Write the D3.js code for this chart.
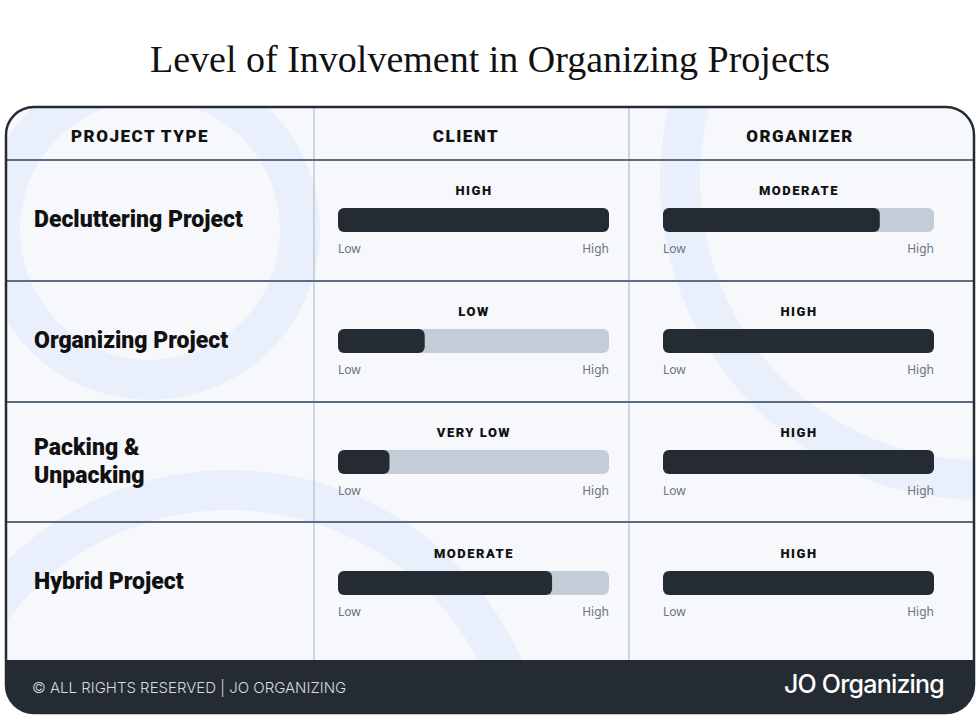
<!DOCTYPE html>
<html><head><meta charset="utf-8">
<script src="https://cdn.jsdelivr.net/npm/d3@7"></script>
<style>body{margin:0;background:#fff}</style></head>
<body><div id="chart"></div>
<script>
const projects = ['Decluttering Project', 'Organizing Project', 'Packing &\nUnpacking', 'Hybrid Project'];
const clientLevel = [1.0, 0.32, 0.19, 0.79];
const clientLabel = ['HIGH', 'LOW', 'VERY LOW', 'MODERATE'];
const organizerLevel = [0.80, 1.0, 1.0, 1.0];
const organizerLabel = ['MODERATE', 'HIGH', 'HIGH', 'HIGH'];
const columns = ['PROJECT TYPE', 'CLIENT', 'ORGANIZER'];

const W = 980, H = 722;
const svg = d3.select('#chart').append('svg').attr('width', W).attr('height', H);
const dark = '#252b33', line = '#5b6c84';
const card = { x: 6, y: 107, w: 968, h: 606, r: 28 };
const rowEdges = [160, 281, 402, 522, 660];
const colEdges = [6, 314, 629, 974];

svg.append('text').attr('x', W / 2).attr('y', 72).attr('text-anchor', 'middle')
  .attr('font-family', 'Liberation Serif, serif').attr('font-size', 38).attr('fill', '#111')
  .text('Level of Involvement in Organizing Projects');

const clip = svg.append('clipPath').attr('id', 'card').append('rect')
  .attr('x', card.x).attr('y', card.y).attr('width', card.w).attr('height', card.h).attr('rx', card.r);
const g = svg.append('g').attr('clip-path', 'url(#card)');
g.append('rect').attr('x', card.x).attr('y', card.y).attr('width', card.w).attr('height', card.h).attr('fill', '#f6f8fc');
// decorative arcs
[[150, 230, 150], [230, 790, 300], [980, 180, 300]].forEach(([cx, cy, r]) =>
  g.append('circle').attr('cx', cx).attr('cy', cy).attr('r', r).attr('fill', 'none')
    .attr('stroke', '#e9f0fb').attr('stroke-width', 40));
g.append('rect').attr('x', card.x).attr('y', 660).attr('width', card.w).attr('height', 60).attr('fill', dark);

colEdges.slice(1, -1).forEach(x => g.append('line').attr('x1', x).attr('x2', x).attr('y1', card.y).attr('y2', 660)
  .attr('stroke', '#a9b3c0').attr('stroke-width', 1));
rowEdges.slice(0, -1).forEach(y => g.append('line').attr('x1', card.x).attr('x2', card.x + card.w).attr('y1', y).attr('y2', y)
  .attr('stroke', line).attr('stroke-width', 2));

const hx = [140, 466, 800];
columns.forEach((c, i) => g.append('text').attr('x', hx[i]).attr('y', 142).attr('text-anchor', 'middle')
  .attr('font-family', 'Roboto, sans-serif').attr('font-weight', 900).attr('font-size', 17)
  .attr('letter-spacing', 1.5).attr('fill', '#111').text(c));

const rowTop = [160, 281, 402, 522];
const bars = [{ x0: 338, vals: clientLevel, labels: clientLabel }, { x0: 663, vals: organizerLevel, labels: organizerLabel }];
const xs = d3.scaleLinear().domain([0, 1]).range([0, 271]);

projects.forEach((p, i) => {
  const top = rowTop[i];
  const lines = p.split('\n');
  const ty = top + 60 - (lines.length - 1) * 14 + 7;
  lines.forEach((l, k) => g.append('text').attr('x', 34).attr('y', ty + k * 28)
    .attr('font-family', 'Roboto, sans-serif').attr('font-weight', 900).attr('font-size', 23)
    .attr('fill', '#111').text(l));
  const off = i === 3 ? 1 : 0;
  bars.forEach(b => {
    const y = top + 48 + off;
    g.append('text').attr('x', b.x0 + 136).attr('y', top + 35 + off).attr('text-anchor', 'middle')
      .attr('font-family', 'Roboto, sans-serif').attr('font-weight', 900).attr('font-size', 13)
      .attr('letter-spacing', 1.5).attr('fill', '#111').text(b.labels[i]);
    g.append('rect').attr('x', b.x0).attr('y', y).attr('width', xs(1)).attr('height', 24).attr('rx', 6).attr('fill', '#c4ccd7');
    g.append('rect').attr('x', b.x0).attr('y', y).attr('width', xs(b.vals[i])).attr('height', 24).attr('rx', 6).attr('fill', dark);
    g.append('text').attr('x', b.x0).attr('y', top + 93 + off).attr('font-family', 'Noto Sans, sans-serif')
      .attr('font-size', 12).attr('fill', '#6b7480').text('Low');
    g.append('text').attr('x', b.x0 + xs(1)).attr('y', top + 93 + off).attr('text-anchor', 'end')
      .attr('font-family', 'Noto Sans, sans-serif').attr('font-size', 12).attr('fill', '#6b7480').text('High');
  });
});

g.append('text').attr('x', 32).attr('y', 693).attr('font-family', 'Inter, sans-serif').attr('font-size', 15)
  .attr('font-weight', 300).attr('fill', '#d8dce2').text('© ALL RIGHTS RESERVED | JO ORGANIZING');
g.append('text').attr('x', 944).attr('y', 693).attr('text-anchor', 'end').attr('font-family', 'Inter, sans-serif')
  .attr('font-size', 25).attr('font-weight', 500).attr('letter-spacing', -0.8).attr('fill', '#fff').text('JO Organizing');

svg.append('rect').attr('x', card.x).attr('y', card.y).attr('width', card.w).attr('height', card.h).attr('rx', card.r)
  .attr('fill', 'none').attr('stroke', dark).attr('stroke-width', 2.5);
</script></body></html>
